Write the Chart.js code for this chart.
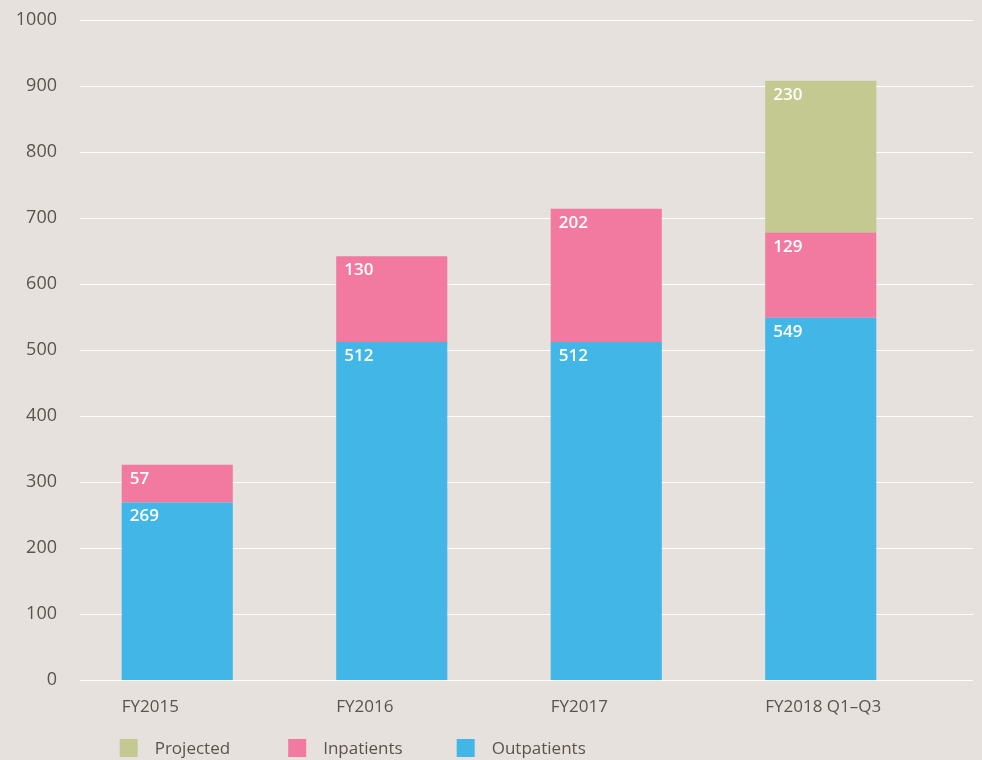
<!DOCTYPE html>
<html>
<head>
<meta charset="utf-8">
<script src="https://cdn.jsdelivr.net/npm/chart.js@4"></script>
<style>
  html, body { margin: 0; padding: 0; background: #e6e1dd; }
  #wrap { width: 982px; height: 760px; }
</style>
</head>
<body>
<div id="wrap"><canvas id="chart" width="982" height="760"></canvas></div>
<script>
// data
const categories = ['FY2015', 'FY2016', 'FY2017', 'FY2018 Q1\u2013Q3'];
const outpatients = [269, 512, 512, 549];
const inpatients = [57, 130, 202, 129];
const projected = [null, null, null, 230];
const yTicks = [0, 100, 200, 300, 400, 500, 600, 700, 800, 900, 1000];

const textColor = '#5b534c';
const fontFamily = '"Open Sans", "Noto Sans", sans-serif';

// legend order as shown (top of stack first)
const legendItems = [
    {label: 'Projected', color: '#c4c992'},
    {label: 'Inpatients', color: '#f27aa0'},
    {label: 'Outpatients', color: '#42b6e6'}
];

// draws y gridlines wider than the plot area, x labels, value labels and legend
const decorPlugin = {
    id: 'decor',
    beforeDatasetsDraw(chart) {
        const ctx = chart.ctx;
        const y = chart.scales.y;
        ctx.save();
        ctx.strokeStyle = '#ffffff';
        ctx.lineWidth = 1.2;
        yTicks.forEach(function(v){
            const py = Math.round(y.getPixelForValue(v)) + 0.5;
            ctx.beginPath();
            ctx.moveTo(80, py);
            ctx.lineTo(973, py);
            ctx.stroke();
        });
        ctx.restore();
    },
    afterDatasetsDraw(chart) {
        const ctx = chart.ctx;
        ctx.save();
        // value labels, top-left inside each segment
        ctx.fillStyle = '#ffffff';
        ctx.font = '600 17px ' + fontFamily;
        ctx.textAlign = 'left';
        ctx.textBaseline = 'alphabetic';
        chart.data.datasets.forEach(function(ds, di){
            const meta = chart.getDatasetMeta(di);
            meta.data.forEach(function(bar, i){
                const v = ds.data[i];
                if (v === null || v === undefined) return;
                const left = bar.x - bar.width / 2;
                ctx.fillText(String(v), left + 8, bar.y + 19);
            });
        });
        // category labels, left aligned with the bars
        const meta0 = chart.getDatasetMeta(0);
        ctx.fillStyle = textColor;
        ctx.font = '17px ' + fontFamily;
        categories.forEach(function(c, i){
            const bar = meta0.data[i];
            ctx.fillText(c, bar.x - bar.width / 2, 712);
        });
        // legend
        const lx = meta0.data[0].x - meta0.data[0].width / 2 - 2;
        legendItems.forEach(function(item, i){
            const x = lx + i * 168.5;
            ctx.fillStyle = item.color;
            ctx.fillRect(x, 739, 18, 18);
            ctx.fillStyle = textColor;
            ctx.fillText(item.label, x + 35, 754);
        });
        ctx.restore();
    }
};

const chartData = {
    labels: categories,
    datasets: [{
        label: 'Outpatients',
        data: outpatients,
        backgroundColor: '#42b6e6'
    },{
        label: 'Inpatients',
        data: inpatients,
        backgroundColor: '#f27aa0'
    },{
        label: 'Projected',
        data: projected,
        backgroundColor: '#c4c992'
    }]
};

const chartOptions = {
    responsive: false,
    animation: false,
    layout: {
        padding: {top: 20, right: 54, bottom: 0, left: 0}
    },
    datasets: {
        bar: {
            categoryPercentage: 1.0,
            barPercentage: 0.518,
            borderWidth: 0
        }
    },
    plugins: {
        legend: {display: false},
        tooltip: {enabled: false}
    },
    scales: {
        x: {
            stacked: true,
            grid: {display: false},
            border: {display: false},
            ticks: {display: false},
            afterFit: function(scale){ scale.height = 80; }
        },
        y: {
            stacked: true,
            min: 0,
            max: 1000,
            grid: {display: false, drawTicks: false},
            border: {display: false},
            afterBuildTicks: function(scale){
                scale.ticks = yTicks.map(function(v){ return {value: v}; });
            },
            ticks: {
                color: textColor,
                padding: 13,
                font: {family: fontFamily, size: 18},
                callback: function(v){ return String(v); }
            },
            afterFit: function(scale){ scale.width = 70; scale.paddingTop = 0; }
        }
    }
};

const ctx = document.getElementById('chart');
const myChart = new Chart(ctx, {
    type: 'bar',
    data: chartData,
    options: chartOptions,
    plugins: [decorPlugin]
});
</script>
</body>
</html>
